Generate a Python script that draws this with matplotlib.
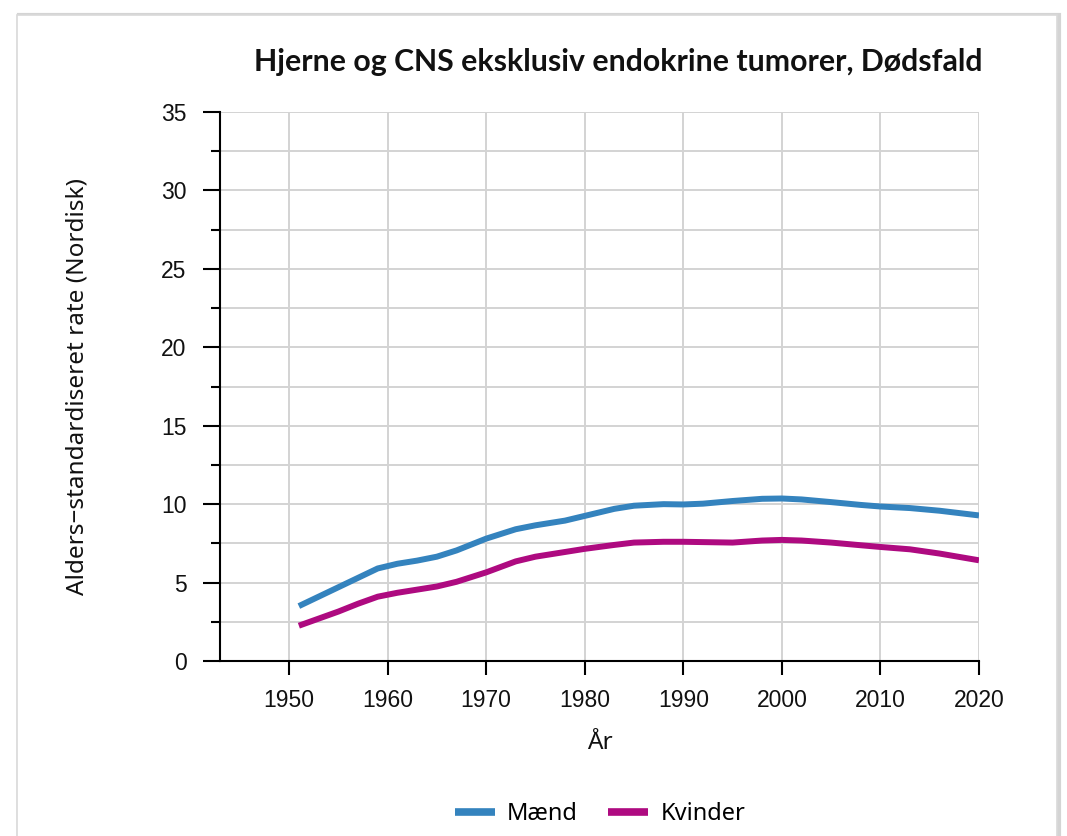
import matplotlib.pyplot as plt
from matplotlib.patches import Rectangle
from matplotlib.lines import Line2D

# values
years = [1951, 1953, 1955, 1957, 1959, 1961, 1963, 1965, 1967, 1970, 1973, 1975,
         1978, 1980, 1983, 1985, 1988, 1990, 1992, 1995, 1998, 2000, 2002, 2005,
         2008, 2010, 2013, 2016, 2020]
maend = [3.5, 4.1, 4.7, 5.3, 5.9, 6.2, 6.4, 6.65, 7.05, 7.8, 8.4, 8.65,
         8.95, 9.25, 9.7, 9.9, 10.0, 9.98, 10.03, 10.2, 10.34, 10.36, 10.3, 10.13,
         9.95, 9.85, 9.75, 9.58, 9.28]
kvinder = [2.25, 2.7, 3.15, 3.65, 4.1, 4.35, 4.55, 4.75, 5.05, 5.65, 6.35, 6.65,
           6.95, 7.15, 7.4, 7.55, 7.6, 7.6, 7.58, 7.55, 7.68, 7.72, 7.68, 7.55,
           7.38, 7.27, 7.12, 6.85, 6.42]

series_names = ['Mænd', 'Kvinder']
colors = ['#3483be', '#ae0a80']
x_ticks = [1950, 1960, 1970, 1980, 1990, 2000, 2010, 2020]
y_ticks = [0, 5, 10, 15, 20, 25, 30, 35]

title = 'Hjerne og CNS eksklusiv endokrine tumorer, Dødsfald'
ylabel = 'Alders\u2212standardiseret rate (Nordisk)'
xlabel = 'År'

W, H = 1067, 836
fig = plt.figure(figsize=(W / 100, H / 100), dpi=100)
fig.patch.set_facecolor('white')

# card frame with a little shadow on the right
fig.patches.append(Rectangle((19 / W, -0.05), 1040 / W, 1.05 - 15 / H,
                             transform=fig.transFigure, facecolor='none',
                             edgecolor='#d4d4d4', linewidth=3.0, zorder=-10))
fig.patches.append(Rectangle((17 / W, -0.05), 1040 / W, 1.05 - 15 / H,
                             transform=fig.transFigure, facecolor='white',
                             edgecolor='#d9d9d9', linewidth=1.2, zorder=-9))

ax = fig.add_axes([220 / W, 1 - 661 / H, (979 - 220) / W, (661 - 112) / H])
ax.set_facecolor('none')

ax.plot(years, maend, color=colors[0], linewidth=4.3, solid_capstyle='butt',
        solid_joinstyle='round', zorder=3)
ax.plot(years, kvinder, color=colors[1], linewidth=4.3, solid_capstyle='butt',
        solid_joinstyle='round', zorder=3)

ax.set_xlim(1943, 2020)
ax.set_ylim(0, 35)
ax.set_xticks(x_ticks)
ax.set_yticks(y_ticks)
ax.set_yticks([2.5 + 5 * i for i in range(7)], minor=True)

ax.grid(which='both', color='#d3d3d3', linewidth=1.4, zorder=0)
ax.set_axisbelow(True)

for s in ['top', 'right']:
    ax.spines[s].set_visible(False)
for s in ['left', 'bottom']:
    ax.spines[s].set_linewidth(1.5)
    ax.spines[s].set_color('black')

ax.tick_params(axis='y', which='major', length=12, width=1.5, pad=12,
               labelsize=16.5, labelcolor='#111111')
ax.tick_params(axis='y', which='minor', length=6.5, width=1.5)
ax.tick_params(axis='x', which='major', length=10, width=1.5, pad=10,
               labelsize=16.5, labelcolor='#111111')
for lab in ax.get_xticklabels() + ax.get_yticklabels():
    lab.set_fontfamily('Liberation Sans')

ax.set_ylabel(ylabel, fontsize=17.5, fontfamily='Noto Sans', color='#111111')
ax.yaxis.label.set_va('center')
ax.yaxis.set_label_coords((78 - 220) / 759, 0.5)
ax.set_xlabel(xlabel, fontsize=17.5, fontfamily='Noto Sans', color='#111111')
ax.xaxis.label.set_va('center')
ax.xaxis.set_label_coords(0.5, (661 - 743) / 549)

fig.text(983 / W, 1 - 62 / H, title, ha='right', va='center', fontsize=21.8,
         fontweight='bold', fontfamily='Lato', color='#111111')

handles = [Line2D([], [], color=c, linewidth=5.5, solid_capstyle='butt') for c in colors]
fig.legend(handles, series_names, loc='center', bbox_to_anchor=(600 / W, 1 - 814 / H),
           ncol=2, frameon=False, handlelength=1.7, handletextpad=0.5,
           columnspacing=1.3, prop={'family': 'Noto Sans', 'size': 17})

fig.savefig('out.png', dpi=100)
